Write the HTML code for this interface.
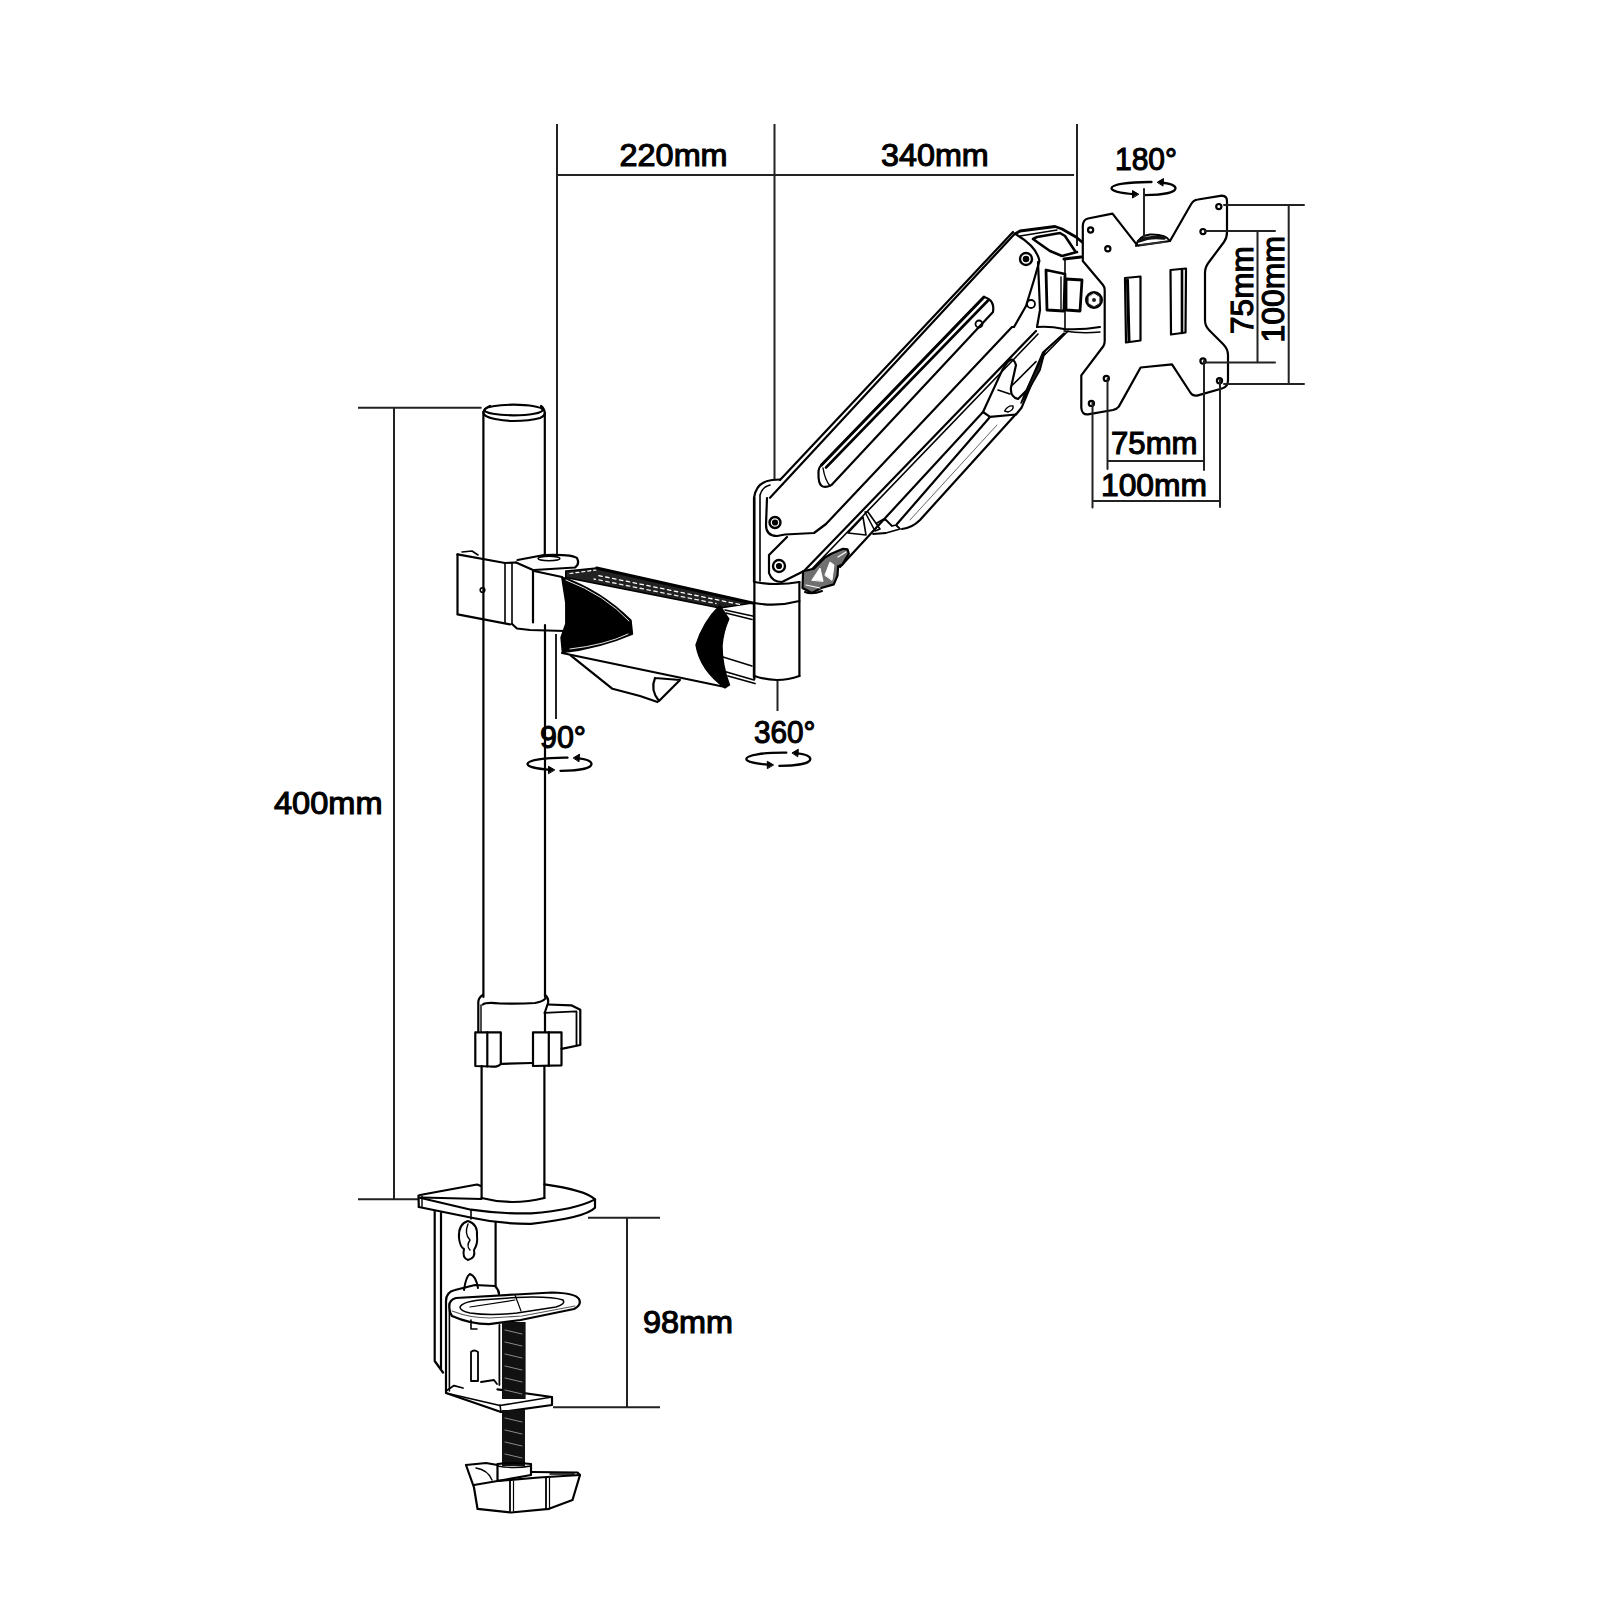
<!DOCTYPE html>
<html><head><meta charset="utf-8">
<style>
html,body{margin:0;padding:0;background:#fff;width:1600px;height:1600px;overflow:hidden}
svg{display:block}
text{font-family:"Liberation Sans",sans-serif;font-size:31px;fill:#000;stroke:#000;stroke-width:1.1}
</style></head><body>
<svg width="1600" height="1600" viewBox="0 0 1600 1600">
<rect width="1600" height="1600" fill="#fff"/>

<!-- DIMENSION LINES -->
<g fill="none" stroke="#222" stroke-width="2">
  <path d="M557 124V555M556 634V719"/>
  <path d="M774.5 124V480"/>
  <path d="M1077 124V246"/>
  <path d="M557 175H1074"/>
  <path d="M358 407.8H481.5"/>
  <path d="M394 408V1199"/>
  <path d="M358 1199.2H418"/>
  <path d="M588 1217.8H660"/>
  <path d="M627 1218V1407"/>
  <path d="M553 1407.2H660"/>
  <path d="M777.5 680V711"/>
</g>

<!-- TEXT -->
<text x="619.6" y="166" textLength="108" lengthAdjust="spacingAndGlyphs">220mm</text>
<text x="881" y="166.2" textLength="107.7" lengthAdjust="spacingAndGlyphs">340mm</text>
<text x="274" y="814" textLength="108.5" lengthAdjust="spacingAndGlyphs">400mm</text>
<text x="643" y="1333.3" textLength="90" lengthAdjust="spacingAndGlyphs">98mm</text>
<text x="1115" y="170" textLength="62" lengthAdjust="spacingAndGlyphs">180°</text>
<text x="540" y="748" textLength="46" lengthAdjust="spacingAndGlyphs">90°</text>
<text x="754" y="742.7" textLength="61.5" lengthAdjust="spacingAndGlyphs">360°</text>
<text x="1111" y="454" textLength="86.5" lengthAdjust="spacingAndGlyphs">75mm</text>
<text x="1101" y="496" textLength="106" lengthAdjust="spacingAndGlyphs">100mm</text>
<text transform="translate(1252.5,334) rotate(-90)" textLength="88" lengthAdjust="spacingAndGlyphs">75mm</text>
<text transform="translate(1284,342.5) rotate(-90)" textLength="106.5" lengthAdjust="spacingAndGlyphs">100mm</text>

<!-- ROTATION ARROWS -->
<g fill="none" stroke="#000" stroke-width="2.3" stroke-linecap="round">
  <g transform="translate(1143.5,188.3)">
    <path d="M-9 5.8C-24 4.8 -32 2.5 -32 0C-32 -4 -15 -6.5 8 -6.3"/>
    <path d="M17 -5.8C27 -4.8 32 -2.5 32 0C32 4 20 6.8 1 6.8"/>
    <path d="M-5 5.8L-11 2.3L-11 9.3Z" fill="#000" stroke-width="1"/>
    <path d="M14 -6.2L20 -9.8L19.5 -2.6Z" fill="#000" stroke-width="1"/>
  </g>
  <g transform="translate(559.5,764)">
    <path d="M-9 5.8C-24 4.8 -32 2.5 -32 0C-32 -4 -15 -6.5 8 -6.3"/>
    <path d="M17 -5.8C27 -4.8 32 -2.5 32 0C32 4 20 6.8 1 6.8"/>
    <path d="M-5 5.8L-11 2.3L-11 9.3Z" fill="#000" stroke-width="1"/>
    <path d="M14 -6.2L20 -9.8L19.5 -2.6Z" fill="#000" stroke-width="1"/>
  </g>
  <g transform="translate(778.3,759)">
    <path d="M-9 5.8C-24 4.8 -32 2.5 -32 0C-32 -4 -15 -6.5 8 -6.3"/>
    <path d="M17 -5.8C27 -4.8 32 -2.5 32 0C32 4 20 6.8 1 6.8"/>
    <path d="M-5 5.8L-11 2.3L-11 9.3Z" fill="#000" stroke-width="1"/>
    <path d="M14 -6.2L20 -9.8L19.5 -2.6Z" fill="#000" stroke-width="1"/>
  </g>
</g>

<!-- DRAWING -->
<g fill="none" stroke="#000" stroke-width="2.2" stroke-linecap="round" stroke-linejoin="round">
<!-- POLE -->
<g id="pole">
  <path d="M483.4 413V997M481.6 1066V1198"/>
  <path d="M544.8 413V555M545 625V997M544.4 1066V1198"/>
  <ellipse cx="513.5" cy="410" rx="29" ry="5.3"/>
  <path d="M483.4 412Q483 417 495 419Q505 421 513 421Q530 421 540 418Q545 416 544.8 412.5Q544 408 541 406"/>
  <path d="M483.4 412Q485 408 490 406"/>
</g>


<!-- HORIZONTAL ARM -->
<g id="harm">
  <path d="M457.5 554.4L457.5 614.4L510 624.4"/>
  <path d="M457.5 554.4L505 563L516 562.5"/>
  <path d="M462 552L472 551L478 555" stroke-width="1.6"/>
  <path d="M505 563V623M512 563V624" stroke-width="1.6"/>
  <path d="M516 562.5L533 570V622.5"/>
  <path d="M512 624L517 628.5L530 630L565 631"/>
  <path d="M517.5 560L544 555Q572 554 577 558Q580 564 575 567.5L534 570"/>
  <ellipse cx="549" cy="558.5" rx="11" ry="2.2" stroke-width="1.4"/>
  <circle cx="482.5" cy="590" r="2.3" stroke-width="1.6"/>
  <path d="M534 571L562 577"/>
  <path d="M565.8 571L576.8 570L596.7 568L752.5 603L720 608L565.8 577.5Z" fill="#222" stroke-width="1.6"/>
  <path d="M598.8 575.6L740 604.5" stroke="#fff" stroke-width="1.3" stroke-dasharray="3.5 3.5"/>
  <path d="M594 579L716 603.5" stroke="#eee" stroke-width="1.3" stroke-dasharray="3.5 3.5" stroke-dashoffset="2"/>
  <path d="M570 573.5L596 570" stroke="#fff" stroke-width="1.2" stroke-dasharray="3 3"/>
  <path d="M596.7 568L752.5 603" stroke-width="3"/>
  <path d="M562 653L725 687"/>
  <path d="M561.7 577Q600 590 631 620.3L632.5 634Q600 648 562.4 652.6L561 637.5L565.8 623.7L565.8 603Z" fill="#000" stroke-width="1.4"/>
  <path d="M566 580Q605 595 629 621" stroke="#fff" stroke-width="0.9"/>
  <path d="M570 649Q605 645 628 634" stroke="#fff" stroke-width="0.9"/>
  <path d="M719.8 605.5Q703 622 696 645Q700 670 725 688L729.5 685Q722 665 722 646Q723 632 728.8 619Z" fill="#000" stroke-width="1.4"/>
  <path d="M753.9 602.5V677.5"/>
  <path d="M725 610L752.5 616M726 613L752 619.5" stroke-width="1.5"/>
  <path d="M723 657L752 666" stroke-width="1.4"/>
  <path d="M726.5 672L754 680M728 676L755 683.5" stroke-width="1.8"/>
  <path d="M570.6 655.3L612.5 688.8L640 696L657.5 702"/>
  <path d="M655 678Q650 690 659 701M680 680L659 701M655 678L680 680"/>
  <!-- joint cylinder -->
  <path d="M754.4 498V679M799.4 582V676"/>
  <path d="M754.4 582Q777 586 799.4 582"/>
  <path d="M754.4 603Q777 607 799.4 601"/>
  <path d="M754.4 676Q777 684 799.4 676"/>
</g>

<!-- ELBOW + ARM -->
<g id="arm">
  <path d="M754 582V498Q756 482 772 480L780 479.5"/>
  <path d="M760 581V495Q762 487 770 485" stroke-width="1.6"/>
  <!-- top bevel lines -->
  <path d="M780 480L1013 232"/>
  <path d="M770 497.7L1015 233.5"/>
  <!-- face plate -->
  <path d="M767 498L766 525Q766 536 777 536L785 534.5L814 533L826 524L1012 327L1014 327L1026 306L1034 280L1039.4 261Q1037 247 1017 235"/>
  <!-- slot -->
  <path d="M821.5 465L984 297Q995 300 993 312L831.5 485Q818 492 818.5 474Q818 468 821.5 465Z"/>
  <path d="M821.5 465L984 297" stroke-width="3"/>
  <path d="M826 467.5L988 300.5" stroke-width="2.6"/>
  <path d="M823 468Q825 480 830 486" stroke-width="1.4"/>
  <circle cx="979" cy="324" r="3.5" stroke-width="1.8"/>
  <!-- screws -->
  <circle cx="775" cy="522.5" r="5.5" stroke-width="2.4"/><circle cx="775" cy="522.5" r="2" fill="#000"/>
  <circle cx="779" cy="566" r="6" stroke-width="2.4"/><circle cx="779" cy="566" r="2" fill="#000"/>
  <circle cx="1026" cy="259" r="6" stroke-width="2.4"/><circle cx="1026" cy="259" r="2.2" fill="#000"/>
  <circle cx="1031" cy="304" r="4" stroke-width="1.8"/>
  <!-- lower link -->
  <path d="M787 537L769 555V573Q772 582 782 582L804 571L1036 331"/>
  <path d="M808 573L1038 334" stroke-width="1.6"/>
  <path d="M840 567L983 412L1002 370.6Q1012 352 1016 365L1011 387.5Q1010 397 1018 399L1027 390L1043 352.6L1064 333.5"/>
  <path d="M983 412L990 416.8L1016 414.5L1021.5 407.8L1044 353.8"/>
  <path d="M1012.5 385L1036 361.6M998 390L1010 394" stroke-width="1.6"/>
  <path d="M1025 393L1045 351L1040 370L1021 403Z" fill="#222" stroke-width="1.6"/>
  <path d="M1004.6 411Q1008 405 1013 406Q1014 410 1008 412Z" stroke-width="1.4"/>
  <!-- gas spring -->
  <path d="M990 417L897 524"/>
  <path d="M1016 414L920 520Q912 528 902 529"/>
  <path d="M997 425L910 520" stroke="#666" stroke-width="1"/>
  <path d="M865 512L868 512L880 529L875 531Z" stroke-width="1.6"/>
  <path d="M877 523L883 519.5L886 520L892 526L896 525L900 529L886 533L873 534" stroke-width="1.8"/>
  <path d="M848 533L863 517L866 535Z" stroke-width="1.6"/>
  <!-- mechanism -->
  <path d="M803.1 571.3L802.5 588L811.9 593L821.3 588L833.8 584.4L837.5 575.6L838.1 566.3L842.5 564.4L848.8 553.8L847.5 549.4L843 548.8L831.3 553.8L825 557.5L813.8 568.8Z" fill="#707070" stroke-width="2.2"/>
  <path d="M812 580L820 568L823 581Z" fill="#fff" stroke="#fff" stroke-width="1"/>
  <path d="M825 575L830 562L834 565L832 580Z" fill="#fff" stroke="#fff" stroke-width="1"/>
  <path d="M806 585L820 588" stroke="#fff" stroke-width="1.2"/>
  <path d="M838 557L846 552" stroke="#fff" stroke-width="1.2"/>
  <path d="M805 592Q812 595 822 591" stroke-width="2"/>
  <!-- cap & tilt body -->
  <path d="M1015 234L1020 231L1055 226.5L1062 229L1076 237L1082 242" stroke-width="2.8"/>
  <path d="M1033 239L1037 237L1060 233L1065 236L1075 251M1033 239L1040 244L1050 251L1062 256L1077 252" stroke-width="2.6"/>
  <path d="M1020 236L1057 230" stroke-width="1.4"/>
  <path d="M1038 262L1040 310L1037 327"/>
  <path d="M1064 259L1081 257" stroke-width="2.8"/>
  <path d="M1065 259V330" stroke-width="1.6"/>
  <path d="M1046 270L1065 274L1064 311L1047 310Z" stroke-width="2.8"/>
  <path d="M1061 277V309" stroke-width="1.4"/>
  <path d="M1066 279L1082 280L1080 311L1066 310Z" stroke-width="2.8"/>
  <circle cx="1094" cy="300" r="8" fill="#222" stroke-width="2"/>
  <path d="M1094 294L1099 297L1099 303L1094 306L1089 303L1089 297Z" fill="#fff" stroke="#fff" stroke-width="0.8"/>
  <circle cx="1094" cy="300" r="2" fill="#222" stroke="none"/>
  
  <path d="M1037 327Q1050 326 1064 329Q1082 330 1100 327"/>
  <path d="M1064 331Q1082 334 1100 332" stroke-width="1.4"/>
  <path d="M1068 331L1044.5 355" stroke-width="1.6"/>
</g>

<!-- CABLE CLIP -->
<g id="clip">
  <path d="M482.8 994.8Q478 998 478.3 1003V1031.5"/>
  <path d="M481 1005V1031.5" stroke-width="1.4"/>
  <path d="M482.8 1004.5Q486 1002 500 1003.5Q520 1004 535 1003Q542 1002 545.5 998.5"/>
  <path d="M545 994.8Q549 998 548 1003L545 1012V1031.6"/>
  <path d="M548 1004.5L571.3 1005.3L580.3 1009.8V1045L561.5 1048.8"/>
  <path d="M544.3 1012.8L576.5 1011.3V1045" stroke-width="1.8"/>
  <path d="M475.3 1032.3H500.8V1064Q498 1067.5 490 1066.5L475.3 1066Z"/>
  <path d="M487.3 1032.3V1066.5"/>
  <path d="M533 1032.3H561.5V1065.3L533 1066Z"/>
  <path d="M548.8 1032.3V1066"/>
  <path d="M501.5 1063.8L531.5 1063"/>
</g>

<!-- BASE PLATE -->
<g id="base">
  <path d="M420 1195L477 1184.5L481 1186M544.4 1184.4Q585 1190 595 1199.4"/>
  <path d="M418.5 1195.5L418.8 1207"/>
  <path d="M422 1196V1206.5" stroke-width="1.4"/>
  <path d="M418.8 1197.5L471 1209.7Q500 1214 531 1213.4Q575 1210 595 1199.4V1207.8Q585 1218 531 1223.8Q500 1224 473 1218L418.8 1207"/>
  <path d="M481.6 1198Q512 1206 544.4 1198"/>
  <path d="M421 1197.5L481.5 1199" stroke-width="2"/>
  <path d="M471 1210V1219" stroke-width="1.6"/>
</g>

<!-- CLAMP -->
<g id="clamp">
  <path d="M434.7 1211V1361L443 1372.5"/>
  <path d="M441 1213V1369"/>
  <path d="M495.6 1222.5V1286"/>
  <path d="M468 1221Q458 1224 459 1238Q460 1247 464 1249Q462 1258 468 1260Q476 1258 474 1250Q478 1244 477 1236Q478 1224 468 1221Z" stroke-width="2"/>
  <path d="M468 1224Q464 1234 470 1240Q466 1246 470 1250" stroke-width="1.4"/>
  <path d="M464 1290Q466 1276 470 1274Q476 1276 478 1288" stroke-width="2"/>
  <path d="M446 1301V1393L501 1412L552 1405V1397L497.5 1389.4"/>
  <path d="M449.4 1304V1391" stroke-width="1.6"/>
  <path d="M499.4 1325V1385" stroke-width="1.8"/>
  <path d="M446 1301Q446 1292 455 1290L475 1285L495 1286Q499 1290 499 1294"/>
  <path d="M446 1391L454 1385.6L463 1388M481 1382L494 1380L497 1384" stroke-width="1.8"/>
  <path d="M446 1393L500 1405.5L552 1397" stroke-width="1.6"/>
  <path d="M500 1405L501 1412" stroke-width="1.6"/>
  <path fill="#fff" d="M449.4 1306Q449 1300 456 1298L516 1294.5L552 1292.5Q575 1293 579 1299Q582 1305 574 1309L520.6 1320L489 1324.2Q470 1324 452 1316Q449 1312 449.4 1306Z"/>
  <path d="M460 1307Q462 1302 480 1300L516 1297.5Q550 1296 563 1300Q566 1304 556 1307L517 1313Q490 1316 470 1313Q460 1311 460 1307Z" stroke-width="1.5"/>
  <path d="M452 1311Q470 1318 490 1318L522 1316L575 1306" stroke-width="1.2" stroke="#555"/>
  <path d="M515 1295L521 1311M470 1307L515 1300" stroke-width="1.2"/>
  <path d="M471 1352Q474 1349 478 1352V1381H471Z" stroke-width="1.8"/>
  <path d="M471 1320V1329H477" stroke-width="1.6"/>
  <rect x="502" y="1322" width="23.6" height="77" fill="#111" stroke="none"/>
  <rect x="502" y="1410" width="23" height="56" fill="#111" stroke="none"/>
  <path d="M505 1330L522 1334M505 1342L522 1346M505 1354L522 1358M505 1366L522 1370M505 1378L522 1382M505 1390L522 1394M505 1418L522 1422M505 1430L522 1434M505 1442L522 1446M505 1454L522 1458" stroke="#888" stroke-width="1"/>
</g>

<!-- KNOB -->
<g id="knob">
  <path d="M497.5 1464Q514 1462 531 1464V1475L497.5 1481Z"/>
  <path d="M497.5 1466Q514 1469 531 1466" stroke-width="1.4"/>
  <path d="M466 1465L486 1463L497.5 1465M466 1465L474 1487.5L477.5 1508.8L511 1512.5L549 1508.8L572.5 1500L580 1475L577.5 1472.5L532.5 1472"/>
  <path d="M474 1485L497.5 1481L539 1477.5L580 1475"/>
  <path d="M510 1481V1511M546 1478V1509" stroke-width="1.8"/>
  <path d="M513.5 1481V1511M549.5 1478V1509" stroke-width="1.2"/>
  <path d="M476 1468Q488 1470 492 1480" stroke-width="1.4"/>
  <path d="M550 1474H574" stroke-width="1.4"/>
</g>

<!-- VESA PLATE -->
<g id="vesa">
  <path fill="#fff" d="M1082.8 226Q1083 219.5 1088 218.5L1112.5 213.6L1137.5 245.6L1170 241L1190.6 205Q1193 200 1198 199.5L1221.9 195.6Q1227 196 1227 201L1227 232Q1227 238 1224 242L1209 262Q1205 267 1205 273L1205 320Q1205 326 1209 330L1223 344Q1228 349 1228 355L1228 380Q1228 387 1222 388.5L1197 395.6Q1192 396 1190 392L1172 364.4L1140.6 367.5L1118.8 406.6Q1117 409 1113 410L1088 414.4Q1082 415 1081.3 408L1081.3 375.3L1103.5 346Q1104.7 344 1104.7 341L1104.7 290Q1104.7 287 1103 285L1082.8 261Z"/>
  <circle cx="1090.6" cy="230" r="2.6"/>
  <circle cx="1107.8" cy="248.8" r="2.6"/>
  <circle cx="1203" cy="231.6" r="2.6"/>
  <circle cx="1218.8" cy="206.6" r="2.6"/>
  <circle cx="1203" cy="361" r="2.6"/>
  <circle cx="1219.5" cy="380.8" r="2.6"/>
  <circle cx="1106.3" cy="378.4" r="2.6"/>
  <circle cx="1091.4" cy="403.4" r="2.6"/>
  <path d="M1125 278L1140.5 276.5L1140.5 340.5L1126 342.5Z"/>
  <path d="M1127.5 280L1129 341" stroke-width="3"/>
  <path d="M1170.5 270L1186 268.5L1185.5 332.5L1171 334.5Z"/>
  <path d="M1182 270L1182 333" stroke-width="2.6"/>
  <path d="M1136 246Q1138 236 1150 234.5Q1166 234 1170 241" stroke-width="2"/>
  <path d="M1139 241Q1150 236 1164 238" stroke-width="3.5" stroke="#111"/>
  <path d="M1140 245L1165 242" stroke="#333" stroke-width="1.6"/>
</g>
<g fill="none" stroke="#222" stroke-width="2">
  <!-- VESA dims -->
  <path d="M1224 205H1304M1224 384H1304M1288.7 205V384"/>
  <path d="M1205 231H1275M1205 362.5H1275M1257.5 231V362.5"/>
  <path d="M1107.5 379V469M1204 361V470M1107.5 461H1202.5"/>
  <path d="M1092.5 402.5V507.5M1220 380V507M1094 501H1220"/>
  <path d="M1144 189V237"/>
</g>

</g>
</svg>
</body></html>
